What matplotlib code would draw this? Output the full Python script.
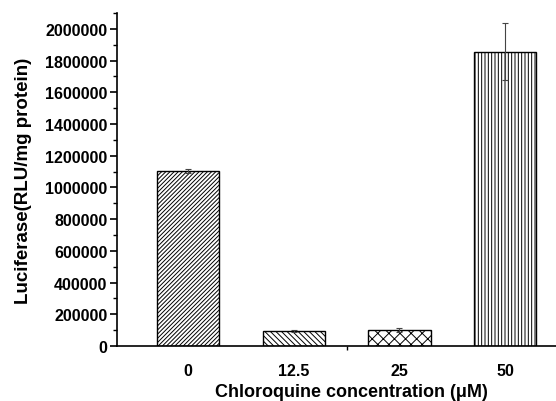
import numpy as np
import matplotlib
matplotlib.use('Agg')
import matplotlib.pyplot as plt
from matplotlib.ticker import MultipleLocator, FixedLocator, FormatStrFormatter

plt.rcParams['font.family'] = ['Liberation Sans', 'DejaVu Sans']
plt.rcParams['font.weight'] = 'bold'
plt.rcParams['hatch.linewidth'] = 0.7

categories = ['0', '12.5', '25', '50']
values = [1104000, 93000, 101000, 1857000]
errors = [13000, 6000, 14000, 178000]
hatches = ['////////', '\\\\\\\\\\\\', 'xxx', '|||||']

fig = plt.figure(figsize=(5.56, 4.02), dpi=100)
ax = fig.add_axes([0.2104, 0.1368, 0.7896, 0.8284])

x = np.arange(len(categories))
bars = ax.bar(x, values, width=0.59, color='white', edgecolor='black',
              linewidth=1.0, zorder=2)
for b, h in zip(bars, hatches):
    b.set_hatch(h)
ax.errorbar(x, values, yerr=errors, fmt='none', ecolor='#444444',
            elinewidth=0.8, capsize=2.5, capthick=0.8, zorder=3)

ax.set_xlim(-0.673, 3.483)
ax.set_ylim(0, 2100000)

ax.spines['top'].set_visible(False)
ax.spines['right'].set_visible(False)
ax.spines['left'].set_linewidth(1.2)
ax.spines['bottom'].set_linewidth(1.2)

ax.yaxis.set_major_locator(MultipleLocator(200000))
ax.yaxis.set_minor_locator(MultipleLocator(100000))
ax.yaxis.set_major_formatter(FormatStrFormatter('%d'))
ax.tick_params(axis='y', which='major', length=5, width=1.2, labelsize=11.5, pad=2)
ax.tick_params(axis='y', which='minor', length=3, width=1.0)

ax.set_xticks(x)
ax.set_xticklabels(categories)
ax.tick_params(axis='x', which='major', length=0, labelsize=11.5, pad=12)
ax.xaxis.set_minor_locator(FixedLocator([1.5]))
ax.tick_params(axis='x', which='minor', length=3, width=1.0)

ax.set_xlabel('Chloroquine concentration (μM)', fontsize=13, fontweight='bold')
ax.xaxis.set_label_coords(0.535, -0.111)
ax.set_ylabel('Luciferase(RLU/mg protein)', fontsize=13.5, fontweight='bold', labelpad=9)

plt.savefig('out.png', dpi=100)
